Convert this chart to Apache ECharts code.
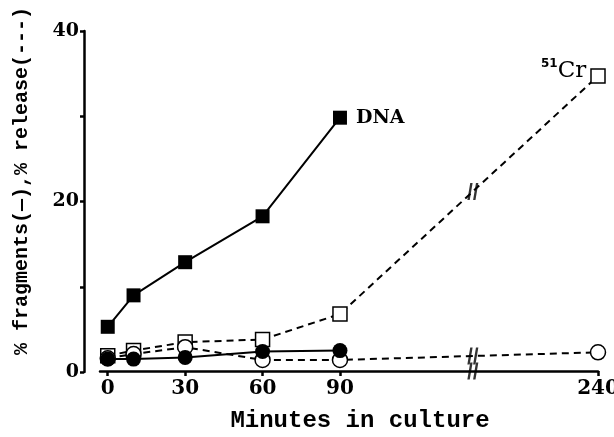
<!DOCTYPE html>
<html>
<head>
<meta charset="utf-8">
<script src="https://cdn.jsdelivr.net/npm/echarts@6/dist/echarts.min.js"></script>
<style>
html,body{margin:0;padding:0;background:#fff;}
#chart{width:614px;height:437px;}
</style>
</head>
<body>
<div id="chart"></div>
<script>
// minutes in culture (240 sits past the axis break)
var minutes = [0, 10, 30, 60, 90, 240];
var dnaFrag = [5.2, 8.9, 12.8, 18.2, 29.8];          // filled squares, solid
var crRelease = [1.8, 2.4, 3.4, 3.7, 6.7, 34.7];     // open squares, dashed
var ctlFrag = [1.4, 1.4, 1.6, 2.3, 2.4];             // filled circles, solid
var ctlRelease = [1.5, 2.0, 2.8, 1.3, 1.3, 2.2];     // open circles, dashed
var xTicks = [0, 30, 60, 90, 240];
var yTicks = [0, 20, 40];

// broken x axis: 90..240 squeezed into 90..190
function brk(t){
	return t <= 90 ? t : 90 + (t - 90) * 100 / 150;
}
var breakAt = 141.5;

function pts(vals){
	var out = [];
	for(var i=0;i<vals.length;i++){
		out.push([brk(minutes[i]), vals[i]]);
	}
	return out;
}
function lerpY(vals, x){
	var a = pts(vals);
	for(var i=1;i<a.length;i++){
		if(x <= a[i][0]){
			var f = (x - a[i-1][0]) / (a[i][0] - a[i-1][0]);
			return a[i-1][1] + f * (a[i][1] - a[i-1][1]);
		}
	}
	return a[a.length-1][1];
}

var chart = echarts.init(document.getElementById('chart'));
var serif = 'DejaVu Serif';
var mono = 'Liberation Mono';
var slash = 'path://M3,0 L5.5,0 L2.5,16 L0,16 Z M9,0 L11.5,0 L8.5,16 L6,16 Z';

var option = {
	backgroundColor: '#fff',
	animation: false,
	grid: [
		{left: 84, right: 16, top: 31, bottom: 65, outerBoundsMode: 'none', containLabel: false},
		{left: 100, right: 16, top: 31, bottom: 66, outerBoundsMode: 'none', containLabel: false}
	],
	xAxis: [
		{gridIndex: 0, type: 'value', min: -3, max: 190, show: false},
		{
			gridIndex: 1, type: 'value', min: -3, max: 190, position: 'bottom',
			axisLine: {show: true, onZero: false, lineStyle: {color: '#000', width: 2.5}},
			axisTick: {show: true, inside: false, length: 5, lineStyle: {color: '#000', width: 2.5},
				customValues: xTicks.map(brk)},
			axisLabel: {
				customValues: xTicks.map(brk),
				color: '#000', fontFamily: serif, fontWeight: 'bold', fontSize: 20, margin: 8,
				formatter: function(v){ return Math.round(v) == brk(240) ? '240' : String(Math.round(v)); }
			},
			splitLine: {show: false},
			name: 'Minutes in culture',
			nameLocation: 'middle',
			nameGap: 38,
			nameTextStyle: {color: '#000', fontFamily: mono, fontWeight: 'bold', fontSize: 24, padding: [0, 0, 0, 22]}
		}
	],
	yAxis: [
		{
			gridIndex: 0, type: 'value', min: 0, max: 40, interval: 10, position: 'left',
			axisLine: {show: true, onZero: false, lineStyle: {color: '#000', width: 2.5}},
			axisTick: {show: true, inside: false, length: 4, lineStyle: {color: '#000', width: 2.5}},
			axisLabel: {
				color: '#000', fontFamily: serif, fontWeight: 'bold', fontSize: 19, margin: 5,
				formatter: function(v){ return yTicks.indexOf(v) >= 0 ? String(v) : ''; }
			},
			splitLine: {show: false}
		},
		{gridIndex: 1, type: 'value', min: 0, max: 40, show: false}
	],
	graphic: [{
		type: 'text',
		x: 22, y: 181,
		rotation: Math.PI / 2,
		style: {
			text: '% fragments(—),% release(---)',
			fill: '#000',
			font: 'bold 20px "Liberation Mono"',
			align: 'center',
			verticalAlign: 'middle'
		}
	}],
	series: [
		{
			name: 'Cr release', type: 'line', xAxisIndex: 1, yAxisIndex: 1,
			data: pts(crRelease),
			symbol: 'rect', symbolSize: 14,
			itemStyle: {color: '#fff', borderColor: '#000', borderWidth: 1.5},
			lineStyle: {color: '#000', width: 2, type: [7, 5]},
			label: {
				show: true,
				position: 'left', distance: 4, offset: [0, -5],
				formatter: function(p){ return p.dataIndex == minutes.length - 1 ? '{s|51}{c|Cr}' : ''; },
				rich: {
					s: {fontFamily: 'DejaVu Sans', fontWeight: 'bold', fontSize: 12, color: '#000', padding: [0, 0, 14, 0]},
					c: {fontFamily: serif, fontSize: 23, color: '#000'}
				}
			}
		},
		{
			name: 'control release', type: 'line', xAxisIndex: 1, yAxisIndex: 1,
			data: pts(ctlRelease),
			symbol: 'circle', symbolSize: 15,
			itemStyle: {color: '#fff', borderColor: '#000', borderWidth: 1.5},
			lineStyle: {color: '#000', width: 2, type: [7, 5]}
		},
		{
			name: 'control fragments', type: 'line', xAxisIndex: 1, yAxisIndex: 1,
			data: pts(ctlFrag),
			symbol: 'circle', symbolSize: 15,
			itemStyle: {color: '#000'},
			lineStyle: {color: '#000', width: 2}
		},
		{
			name: 'DNA', type: 'line', xAxisIndex: 1, yAxisIndex: 1,
			data: pts(dnaFrag),
			symbol: 'rect', symbolSize: 14,
			itemStyle: {color: '#000'},
			lineStyle: {color: '#000', width: 2},
			label: {
				show: true, position: 'right', distance: 9,
				formatter: function(p){ return p.dataIndex == dnaFrag.length - 1 ? 'DNA' : ''; },
				color: '#000', fontFamily: serif, fontWeight: 'bold', fontSize: 19
			}
		},
		{
			// break marks on the lines and the axis
			name: 'breaks', type: 'scatter', xAxisIndex: 1, yAxisIndex: 1,
			symbol: slash, symbolSize: [11, 17], symbolKeepAspect: false,
			itemStyle: {color: '#000'},
			data: [
				[breakAt, lerpY(crRelease, breakAt)],
				[breakAt, lerpY(ctlRelease, breakAt)],
				[breakAt, 0]
			],
			z: 5
		}
	]
};
chart.setOption(option);
</script>
</body>
</html>
